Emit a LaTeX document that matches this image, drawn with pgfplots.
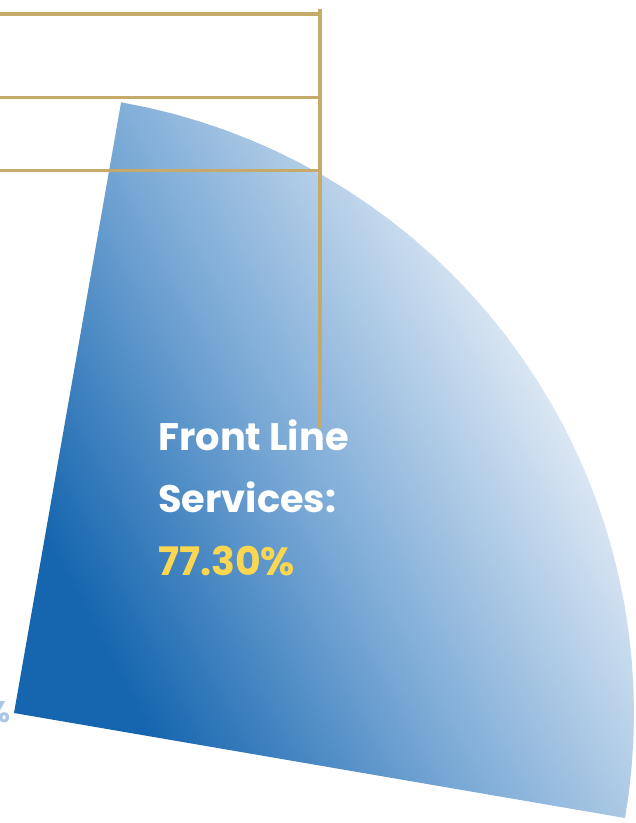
\documentclass[border=0pt]{standalone}
\usepackage{pgfplots}
\pgfplotsset{compat=1.18}
\usepackage{fontspec}
\setmainfont{Poppins}
\definecolor{gold}{HTML}{C5AA6A}
\definecolor{dkb}{RGB}{22,102,175}
\definecolor{mdb}{RGB}{120,168,213}
\definecolor{ltb}{RGB}{230,238,247}
\definecolor{yel}{HTML}{FBD650}
\definecolor{pctblue}{HTML}{A9C6E5}
\pgfdeclarehorizontalshading{wedgegrad}{100bp}{color(0bp)=(dkb); color(28.4bp)=(dkb); color(47.1bp)=(mdb); color(70bp)=(ltb); color(100bp)=(ltb)}
\begin{document}
\begin{tikzpicture}
\begin{axis}[
  at={(0,0)}, anchor=south west,
  hide axis, scale only axis,
  width=636bp, height=823bp,
  xmin=0, xmax=636, ymin=0, ymax=823,
  y dir=reverse, clip=false,
]
% wedge (sector), centre (14,713), radius 620
\addplot[draw=none, shading=wedgegrad, shading angle=28.08] coordinates {
 (14,713) (121.1,102.3) (148.2,107.7) (174.5,114.1) (200.4,121.7) (226.1,130.4)
 (251.3,140.2) (276.0,151.1) (300.3,163.1) (324.0,176.1) (347.1,190.1)
 (369.6,205.1) (391.4,221.1) (412.5,238.0) (432.9,255.9) (452.4,274.6)
 (471.1,294.1) (489.0,314.5) (505.9,335.6) (521.9,357.4) (536.9,379.9)
 (550.9,403.0) (564.0,426.7) (575.9,451.0) (586.8,475.7) (596.6,501.0)
 (605.3,526.6) (612.9,552.5) (619.3,578.8) (624.6,605.3) (628.7,632.1)
 (631.6,659.0) (633.4,686.0) (634.0,713.0) (633.4,740.0) (631.6,767.0)
 (628.7,793.9) (625.0,818.0) (14,713)
} -- cycle;
% gold leader lines
\addplot[gold, line width=3.2bp] coordinates {(0,14) (318,14)};
\addplot[gold, line width=3.2bp] coordinates {(0,97.3) (318,97.3)};
\addplot[gold, line width=3.2bp] coordinates {(0,170.3) (318,170.3)};
\addplot[gold, line width=3.2bp] coordinates {(320,9) (320,428)};
% labels
\node[anchor=base west, inner sep=0pt, text=white, font=\bfseries\fontsize{38.5}{40}\selectfont] at (axis cs:158,450) {Front Line};
\node[anchor=base west, inner sep=0pt, text=white, font=\bfseries\fontsize{38.5}{40}\selectfont] at (axis cs:158,512) {Services:};
\node[anchor=base west, inner sep=0pt, text=yel, font=\bfseries\fontsize{39.5}{40}\selectfont] at (axis cs:158,575) {77.30\%};
\node[anchor=base east, inner sep=0pt, text=pctblue, font=\bfseries\fontsize{30}{32}\selectfont] at (axis cs:11,722) {\%};
\end{axis}
\pgfresetboundingbox
\path (0,0) rectangle (636bp,823bp);
\end{tikzpicture}
\end{document}
